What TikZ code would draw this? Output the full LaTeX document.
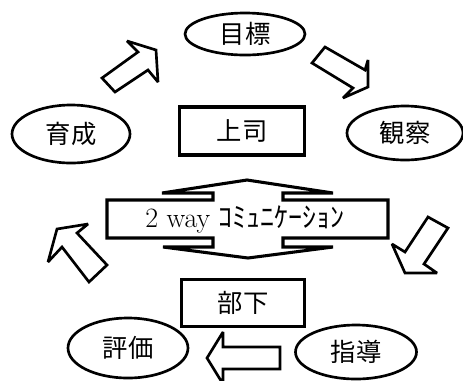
\documentclass[tikz,border=0pt]{standalone}
\usepackage{fontspec}
\newfontfamily\jp{Noto Sans CJK JP}
\usetikzlibrary{shapes.geometric}
\begin{document}
\begin{tikzpicture}[x=0.75pt,y=-0.75pt,
  oval/.style={ellipse,draw,line width=2pt,inner sep=0pt,fill=white,
    font=\jp\fontsize{19}{19}\selectfont},
  labelbox/.style={rectangle,draw,line width=2.3pt,inner sep=0pt,
    font=\jp\fontsize{19}{19}\selectfont},
  blockarrow/.style={draw,line width=2pt,line join=miter,miter limit=2,fill=white},
  bigarrow/.style={draw,line width=2.3pt,line join=miter,miter limit=2,fill=white}]
\useasboundingbox (0,0) rectangle (463,380);

% ellipses
\node[oval,minimum width=90pt,minimum height=31.5pt] (mokuhyo) at (245,34) {目標};
\node[oval,minimum width=88.5pt,minimum height=43.5pt] (ikusei) at (71,134) {育成};
\node[oval,minimum width=87pt,minimum height=40.5pt] (kansatsu) at (405,133) {観察};
\node[oval,minimum width=90pt,minimum height=45pt] (hyoka) at (128,348) {評価};
\node[oval,minimum width=90.75pt,minimum height=40.5pt] (shido) at (356,352) {指導};

% boxes
\node[labelbox,minimum width=93.75pt,minimum height=36pt] (joshi) at (242,131) {上司};
\node[labelbox,minimum width=92.25pt,minimum height=35.25pt] (buka) at (243,303) {部下};

% two-way arrow
\draw[bigarrow] (247,180) -- (333,193) -- (283,193) -- (283,200) -- (388,200)
  -- (388,238) -- (283,238) -- (283,247) -- (333,247) -- (248,258) -- (163,247)
  -- (213,247) -- (213,238) -- (107,238) -- (107,200) -- (213,200) -- (213,193)
  -- (162,193) -- cycle;
\node[inner sep=0pt] (comm) at (245,219)
  {\fontsize{21}{21}\selectfont 2 way {\jp\fontsize{21}{21}\selectfont ｺﾐｭﾆｹｰｼｮﾝ}};

% block arrows
\draw[blockarrow] (102,78) -- (138,52) -- (127,41) -- (156,50) -- (158,82)
  -- (148,70) -- (115,92) -- cycle;
\draw[blockarrow] (312,63) -- (325,47) -- (365,70) -- (368,60) -- (368,87)
  -- (343,98) -- (353,88) -- cycle;
\draw[blockarrow] (107,265) -- (77,233) -- (88,224) -- (57,229) -- (48,262)
  -- (62,247) -- (89,282) -- cycle;
\draw[blockarrow] (428,217) -- (448,228) -- (424,264) -- (437,273) -- (405,273)
  -- (392,244) -- (405,252) -- cycle;
\draw[blockarrow] (280,347) -- (223,347) -- (223,332) -- (207,358) -- (223,384)
  -- (223,369) -- (280,369) -- cycle;
\end{tikzpicture}
\end{document}
